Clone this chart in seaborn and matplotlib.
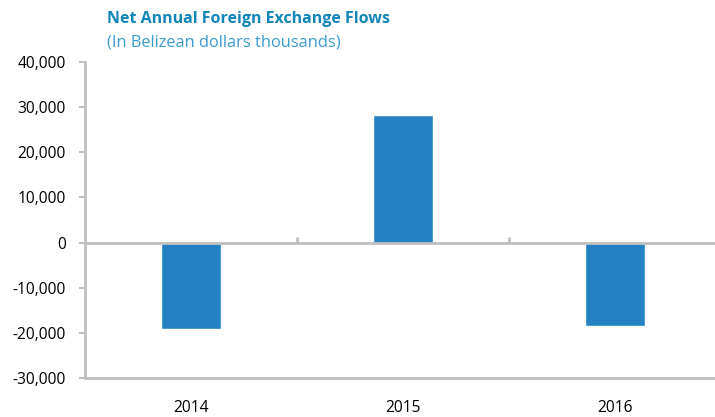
import matplotlib
matplotlib.use("Agg")
import matplotlib.pyplot as plt
import matplotlib.ticker as mticker
import pandas as pd
import seaborn as sns

# Data
years = ["2014", "2015", "2016"]
flows = [-19200, 28200, -18500]

df = pd.DataFrame({"year": years, "flow": flows})

sns.set_theme(style="white")
plt.rcParams["font.family"] = ["Open Sans", "DejaVu Sans"]

fig = plt.figure(figsize=(7.15, 4.17), dpi=100)
ax = fig.add_axes([0.119, 0.0935, 0.8895, 0.7578])

sns.barplot(data=df, x="year", y="flow", color="#2381c4", width=0.28,
            saturation=1, ax=ax)

ax.set_ylim(-30000, 40000)
ax.set_xlim(-0.5, 2.5)
ax.yaxis.set_major_locator(mticker.MultipleLocator(10000))
ax.yaxis.set_major_formatter(mticker.FuncFormatter(lambda v, p: f"{v:,.0f}"))
ax.set_xlabel("")
ax.set_ylabel("")

# Spines
for s in ["top", "right"]:
    ax.spines[s].set_visible(False)
for s in ["left", "bottom"]:
    ax.spines[s].set_color("#bfbfbf")
    ax.spines[s].set_linewidth(2)

ax.tick_params(axis="y", length=4, width=1.5, color="#bfbfbf", labelsize=11.2,
               labelcolor="#000000", left=True, pad=10)
ax.tick_params(axis="x", length=0, labelsize=11.2, labelcolor="#000000", pad=16)

# Zero line with category separators
ax.axhline(0, color="#bfbfbf", lw=2, zorder=1)
ax.vlines([0.5, 1.5], 0, 1300, color="#bfbfbf", lw=2, zorder=1)

# Titles
fig.text(0.150, 0.955, "Net Annual Foreign Exchange Flows", fontsize=11.5,
         fontweight="bold", color="#1386b8", ha="left", va="center")
fig.text(0.150, 0.898, "(In Belizean dollars thousands)", fontsize=11.8,
         color="#3a9bd0", ha="left", va="center")

fig.savefig("out.png", dpi=100)
plt.close(fig)
